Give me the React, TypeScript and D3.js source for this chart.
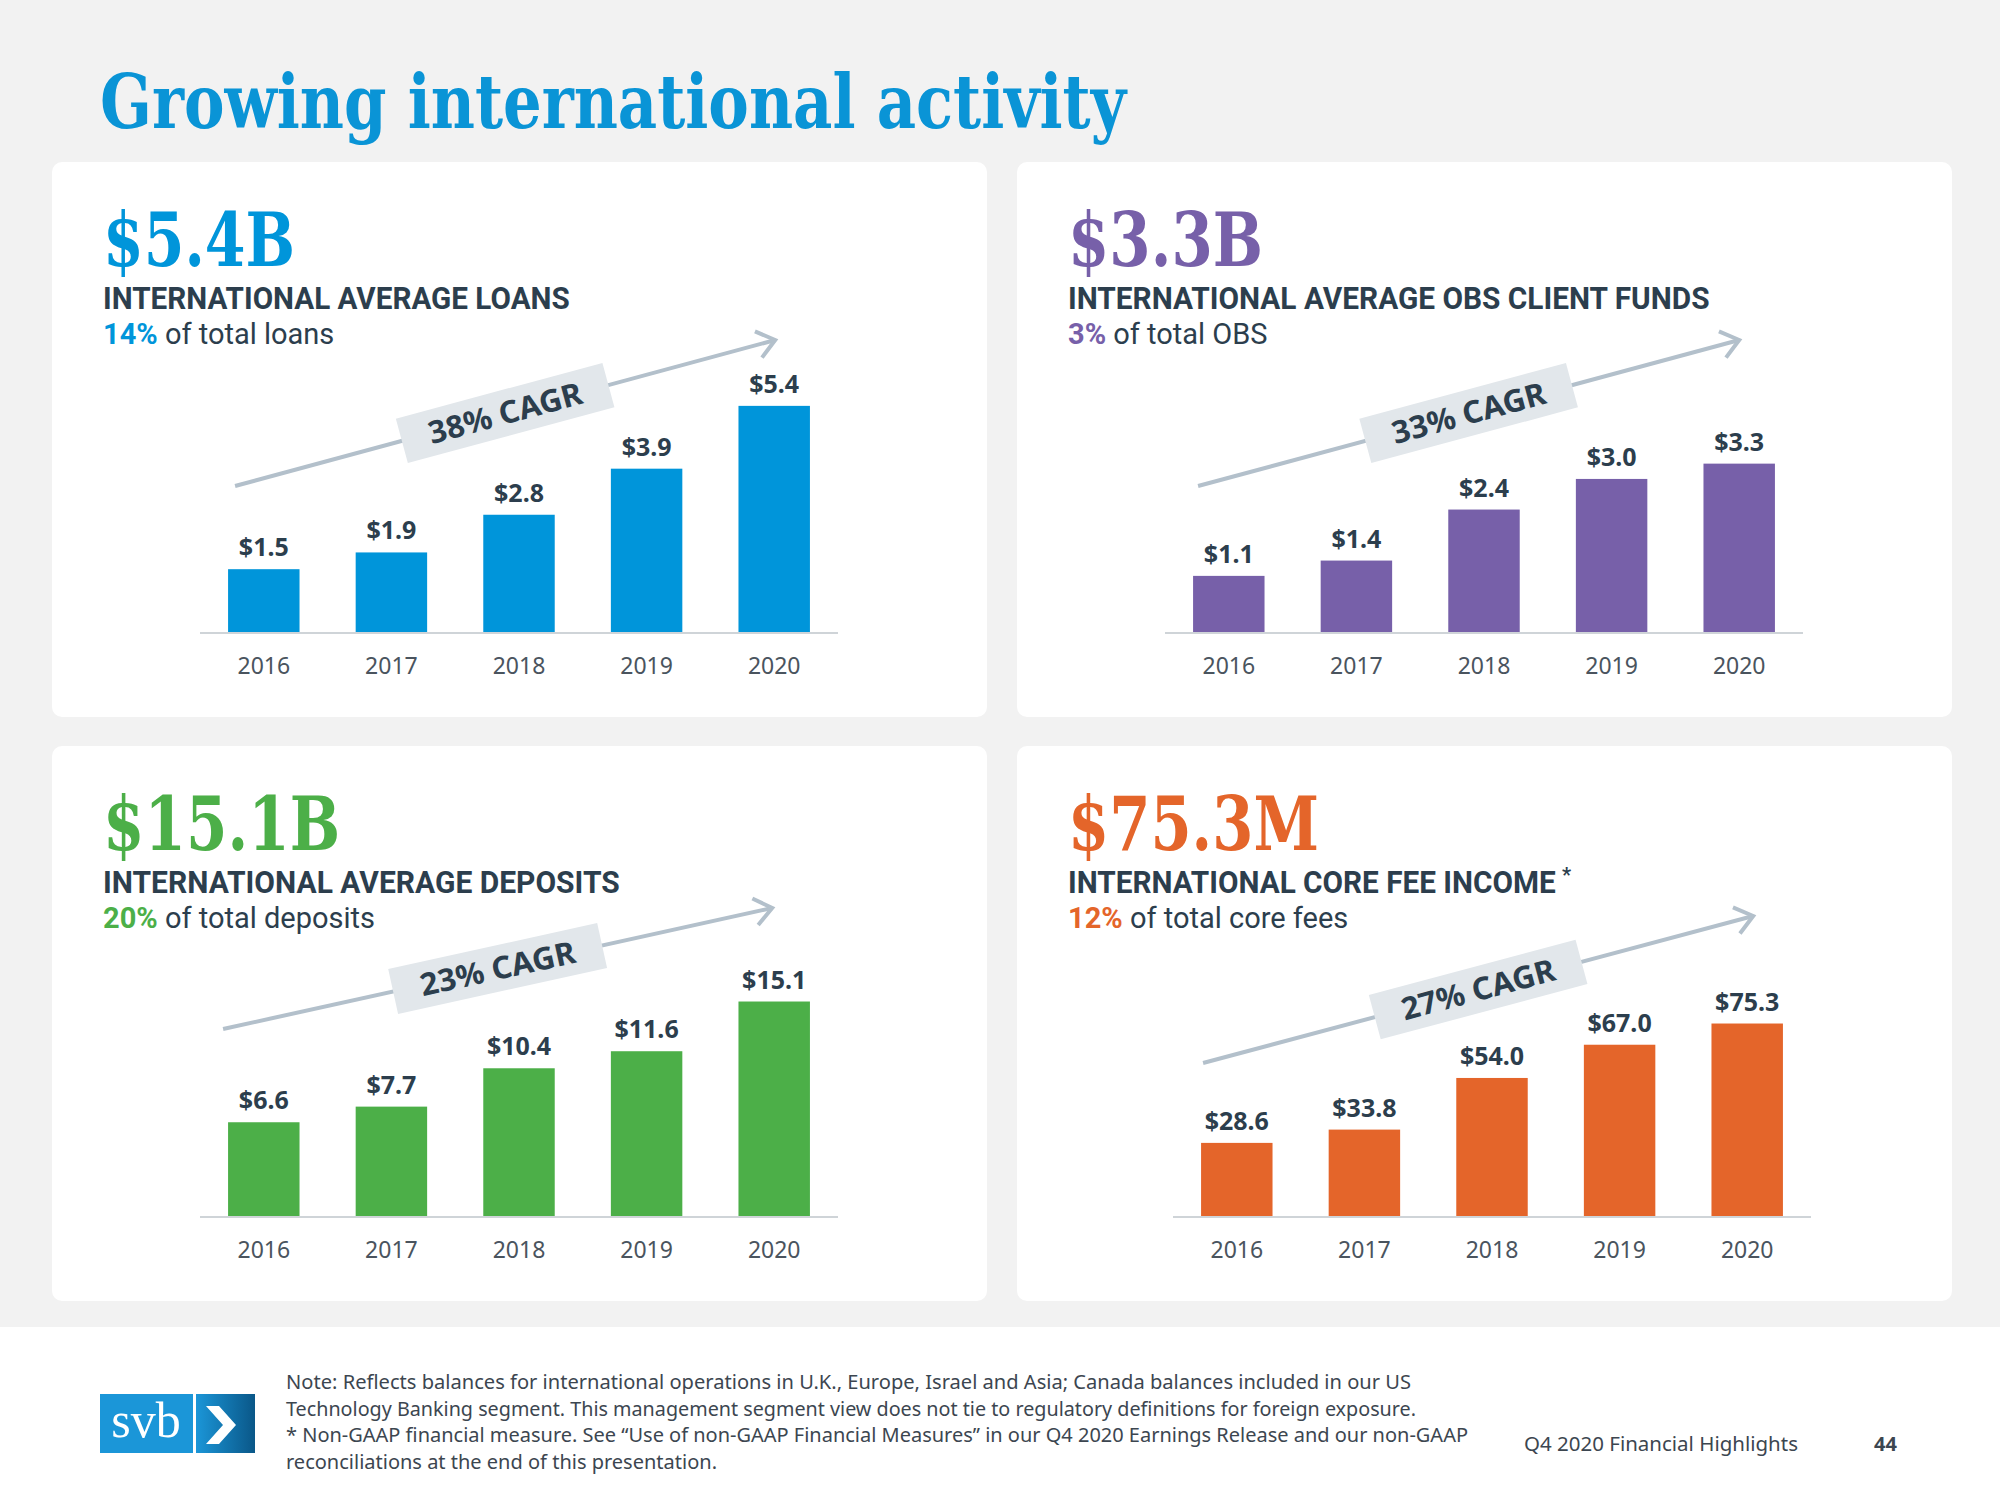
import React, { useLayoutEffect, useRef, useState } from 'react';
import * as d3 from 'd3';

// ---------- data ----------
const years = ['2016', '2017', '2018', '2019', '2020'];
const loans = [1.5, 1.9, 2.8, 3.9, 5.4];
const obsClientFunds = [1.1, 1.4, 2.4, 3.0, 3.3];
const deposits = [6.6, 7.7, 10.4, 11.6, 15.1];
const coreFeeIncome = [28.6, 33.8, 54.0, 67.0, 75.3];

const headlineValues = ['$5.4B', '$3.3B', '$15.1B', '$75.3M'];
const metricTitles = [
  'INTERNATIONAL AVERAGE LOANS',
  'INTERNATIONAL AVERAGE OBS CLIENT FUNDS',
  'INTERNATIONAL AVERAGE DEPOSITS',
  'INTERNATIONAL CORE FEE INCOME',
];
const titleMarks = ['', '', '', '*'];
const shareOfTotal = ['14%', '3%', '20%', '12%'];
const shareTexts = ['of total loans', 'of total OBS', 'of total deposits', 'of total core fees'];
const cagrLabels = ['38% CAGR', '33% CAGR', '23% CAGR', '27% CAGR'];
const valueLabels = [
  ['$1.5', '$1.9', '$2.8', '$3.9', '$5.4'],
  ['$1.1', '$1.4', '$2.4', '$3.0', '$3.3'],
  ['$6.6', '$7.7', '$10.4', '$11.6', '$15.1'],
  ['$28.6', '$33.8', '$54.0', '$67.0', '$75.3'],
];
const seriesList = [loans, obsClientFunds, deposits, coreFeeIncome];

const pageTitle = 'Growing international activity';
const footnoteLines = [
  'Note: Reflects balances for international operations in U.K., Europe, Israel and Asia; Canada balances included in our US',
  'Technology Banking segment.  This management segment view does not tie to regulatory definitions for foreign exposure.',
  '* Non-GAAP financial measure. See \u201cUse of non-GAAP Financial Measures\u201d in our Q4 2020 Earnings Release and our non-GAAP',
  'reconciliations at the end of this presentation.',
];
const footerLabel = 'Q4 2020 Financial Highlights';
const pageNumber = '44';

// ---------- layout / style ----------
const colors = ['#0095da', '#7760a9', '#4caf48', '#e4652a'];
const yMax = [5.97, 4.9, 17.6, 97.8];
const panelLayout = [
  { x: 52, y: 162, axisX: 148 },
  { x: 1017, y: 162, axisX: 148 },
  { x: 52, y: 746, axisX: 148 },
  { x: 1017, y: 746, axisX: 156 },
];
// [dx start, rise start, dx end, rise end]
const arrowLayout = [
  [7, 146, 1, 292],
  [5, 146, 0, 292],
  [-5, 187, -2, 308],
  [2, 153, 6, 300],
];
const headlineWidths = [192, 195, 237, 251];
const titleWidths = [467, 642, 517, 488];
const footnoteWidths = [1125, 1130, 1182, 431];

const DARK = '#2c3e4d';
const SANS = "'Noto Sans', 'Open Sans', sans-serif";
const HEAD_SANS = "Roboto, 'Noto Sans', sans-serif";
const SERIF = "'DejaVu Serif', serif";

// text horizontally scaled to a target width (condensed look)
function FitText({
  x,
  y,
  width,
  children,
  ...rest
}: {
  x: number;
  y: number;
  width: number;
  children: React.ReactNode;
  [k: string]: any;
}) {
  const ref = useRef<SVGTextElement>(null);
  const [s, setS] = useState(1);
  useLayoutEffect(() => {
    const n = ref.current ? ref.current.getComputedTextLength() : 0;
    if (n > 0) setS(width / n);
  }, [width]);
  return (
    <text ref={ref} transform={`translate(${x},${y}) scale(${s},1)`} {...rest}>
      {children}
    </text>
  );
}

function Panel({ i }: { i: number }) {
  const L = panelLayout[i];
  const values = seriesList[i];
  const base = L.y + 470;
  const plotH = 250;
  const x = d3
    .scaleBand<string>()
    .domain(years)
    .range([L.x + L.axisX, L.x + L.axisX + 638])
    .paddingInner(0.44)
    .paddingOuter(0.22);
  const y = d3.scaleLinear().domain([0, yMax[i]]).range([base, base - plotH]);
  const bw = x.bandwidth();

  const [dxs, rs, dxe, re] = arrowLayout[i];
  const x0 = (x(years[0]) as number) + dxs;
  const y0 = base - rs;
  const x1 = (x(years[years.length - 1]) as number) + bw / 2 + dxe;
  const y1 = base - re;
  const ang = Math.atan2(y1 - y0, x1 - x0);
  const deg = (ang * 180) / Math.PI;
  const mx = (x0 + x1) / 2;
  const my = (y0 + y1) / 2;
  const headLen = 22;
  const spread = (38 * Math.PI) / 180;
  const h1 = [x1 - headLen * Math.cos(ang - spread), y1 - headLen * Math.sin(ang - spread)];
  const h2 = [x1 - headLen * Math.cos(ang + spread), y1 - headLen * Math.sin(ang + spread)];

  const tx = L.x + 51;
  return (
    <g>
      <rect x={L.x} y={L.y} width={935} height={555} rx={10} fill="#ffffff" />
      <text
        x={tx}
        y={L.y + 104}
        fontFamily={SERIF}
        fontWeight={700}
        fontSize={74}
        fill={colors[i]}
        textLength={headlineWidths[i]}
        lengthAdjust="spacingAndGlyphs"
      >
        {headlineValues[i]}
      </text>
      <FitText
        x={tx}
        y={L.y + 147}
        width={titleWidths[i]}
        fontFamily={HEAD_SANS}
        fontWeight={700}
        fontSize={31}
        fill={DARK}
      >
        {metricTitles[i]}
      </FitText>
      {titleMarks[i] && (
        <text
          x={tx + titleWidths[i] + 6}
          y={L.y + 136}
          fontFamily={HEAD_SANS}
          fontWeight={700}
          fontSize={20}
          fill={DARK}
        >
          {titleMarks[i]}
        </text>
      )}
      <text x={tx} y={L.y + 182} fontFamily={HEAD_SANS} fontSize={29} fill={DARK}>
        <tspan fontWeight={700} fill={colors[i]}>
          {shareOfTotal[i]}
        </tspan>
        <tspan> {shareTexts[i]}</tspan>
      </text>

      {/* axis line */}
      <line
        x1={x.range()[0]}
        x2={x.range()[1]}
        y1={base + 1}
        y2={base + 1}
        stroke="#cfd4d8"
        strokeWidth={2}
      />
      {values.map((v, j) => (
        <g key={j}>
          <rect x={x(years[j])} y={y(v)} width={bw} height={base - y(v)} fill={colors[i]} />
          <text
            x={(x(years[j]) as number) + bw / 2}
            y={y(v) - 13}
            textAnchor="middle"
            fontFamily={SANS}
            fontWeight={700}
            fontSize={25}
            fill={DARK}
          >
            {valueLabels[i][j]}
          </text>
          <text
            x={(x(years[j]) as number) + bw / 2}
            y={base + 42}
            textAnchor="middle"
            fontFamily={SANS}
            fontSize={23}
            fill="#4a545e"
          >
            {years[j]}
          </text>
        </g>
      ))}

      {/* CAGR arrow */}
      <line x1={x0} y1={y0} x2={x1} y2={y1} stroke="#b3c0cb" strokeWidth={4} />
      <polyline
        points={`${h1[0]},${h1[1]} ${x1},${y1} ${h2[0]},${h2[1]}`}
        fill="none"
        stroke="#b3c0cb"
        strokeWidth={4}
      />
      <g transform={`translate(${mx},${my}) rotate(${deg})`}>
        <rect x={-107} y={-23} width={214} height={46} fill="#e2e7eb" />
        <text
          x={0}
          y={11}
          textAnchor="middle"
          fontFamily={SANS}
          fontWeight={700}
          fontSize={31}
          fill={DARK}
          textLength={158}
          lengthAdjust="spacingAndGlyphs"
        >
          {cagrLabels[i]}
        </text>
      </g>
    </g>
  );
}

export default function App() {
  return (
    <svg
      width={2000}
      height={1500}
      viewBox="0 0 2000 1500"
      style={{ position: 'absolute', left: 0, top: 0, display: 'block' }}
    >
      <defs>
        <linearGradient id="logoGrad" x1="0" x2="1" y1="0" y2="0">
          <stop offset="0" stopColor="#1b96d8" />
          <stop offset="1" stopColor="#0a5788" />
        </linearGradient>
      </defs>
      <rect x={0} y={0} width={2000} height={1500} fill="#f2f2f2" />
      <text
        x={100}
        y={128}
        fontFamily={SERIF}
        fontWeight={700}
        fontSize={75}
        fill="#0a94d6"
        textLength={1026}
        lengthAdjust="spacingAndGlyphs"
      >
        {pageTitle}
      </text>

      {[0, 1, 2, 3].map((i) => (
        <Panel key={i} i={i} />
      ))}

      {/* footer */}
      <rect x={0} y={1327} width={2000} height={173} fill="#ffffff" />
      <rect x={100} y={1394} width={93} height={59} fill="#1b96d8" />
      <rect x={196} y={1394} width={59} height={59} fill="url(#logoGrad)" />
      <text
        x={146}
        y={1437}
        textAnchor="middle"
        fontFamily="'Liberation Serif', serif"
        fontSize={50}
        fill="#ffffff"
      >
        svb
      </text>
      <polygon
        points="206,1406 219,1406 236,1425 219,1444 206,1444 223,1425"
        fill="#ffffff"
      />
      {footnoteLines.map((t, k) => (
        <text
          key={k}
          x={286}
          y={1389 + k * 26.7}
          fontFamily={SANS}
          fontSize={19}
          fill="#3c4650"
          textLength={footnoteWidths[k]}
          lengthAdjust="spacingAndGlyphs"
        >
          {t}
        </text>
      ))}
      <text
        x={1524}
        y={1451}
        fontFamily={SANS}
        fontSize={20}
        fill="#3c4650"
        textLength={274}
        lengthAdjust="spacingAndGlyphs"
      >
        {footerLabel}
      </text>
      <text x={1874} y={1451} fontFamily={SANS} fontWeight={700} fontSize={20} fill="#3c4650">
        {pageNumber}
      </text>
    </svg>
  );
}
